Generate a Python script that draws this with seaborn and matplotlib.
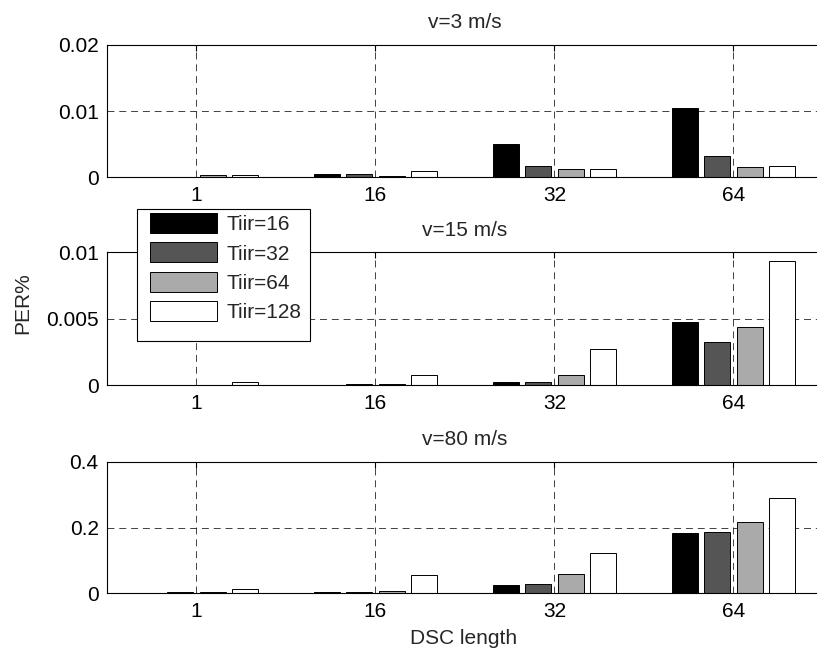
import matplotlib
matplotlib.use("Agg")
import matplotlib.pyplot as plt
import pandas as pd
import seaborn as sns
from matplotlib.patches import Rectangle

# Categories and series
dsc_lengths = ["1", "16", "32", "64"]
tiir_labels = ["Tiir=16", "Tiir=32", "Tiir=64", "Tiir=128"]
bar_colors = ["#000000", "#555555", "#aaaaaa", "#ffffff"]

# PER% per Tiir (rows) and DSC length (columns), one list per speed
per_v3 = [
    [0.0, 0.0005, 0.0050, 0.0105],
    [0.0, 0.00045, 0.00177, 0.0032],
    [0.0003, 0.00025, 0.00126, 0.00156],
    [0.0003, 0.0010, 0.00126, 0.00176],
]
per_v15 = [
    [0.0, 0.0, 0.000225, 0.00475],
    [0.0, 0.000125, 0.000225, 0.00323],
    [0.0, 0.000125, 0.00075, 0.00437],
    [0.000225, 0.00075, 0.0027, 0.00937],
]
per_v80 = [
    [0.0, 0.004, 0.025, 0.182],
    [0.004, 0.004, 0.029, 0.186],
    [0.004, 0.008, 0.060, 0.216],
    [0.013, 0.0545, 0.123, 0.291],
]

panel_titles = ["v=3 m/s", "v=15 m/s", "v=80 m/s"]
panel_data = [per_v3, per_v15, per_v80]
y_ticks = [[0, 0.01, 0.02], [0, 0.005, 0.01], [0, 0.2, 0.4]]
y_tick_labels = [["0", "0.01", "0.02"], ["0", "0.005", "0.01"], ["0", "0.2", "0.4"]]

sns.set_style("white")
plt.rcParams["font.family"] = ["Liberation Sans", "DejaVu Sans"]
plt.rcParams["lines.scale_dashes"] = False
plt.rcParams["axes.edgecolor"] = "black"
plt.rcParams["axes.linewidth"] = 0.8
FS = 15

W, H = 817, 651
fig = plt.figure(figsize=(W / 100, H / 100), dpi=100)

# axes boxes in pixels: (left, top, right, bottom)
boxes = [(107, 45, 823, 177.3), (107, 252.3, 823, 385.3), (107, 461.7, 823, 593.3)]

legend_handles = None
for i, (title, data, ticks, tlabels, box) in enumerate(
    zip(panel_titles, panel_data, y_ticks, y_tick_labels, boxes)
):
    l, t, r, b = box
    ax = fig.add_axes([l / W, 1 - b / H, (r - l) / W, (b - t) / H])
    rows = []
    for tiir, vals in zip(tiir_labels, data):
        for dsc, v in zip(dsc_lengths, vals):
            rows.append({"DSC": dsc, "Tiir": tiir, "PER": v})
    df = pd.DataFrame(rows)
    sns.barplot(
        data=df, x="DSC", y="PER", hue="Tiir",
        order=dsc_lengths, hue_order=tiir_labels, palette=bar_colors,
        width=0.727, gap=0.2, saturation=1, errorbar=None,
        edgecolor="black", linewidth=0.7, legend=(i == 0), ax=ax,
    )
    if i == 0:
        legend_handles, legend_labels = ax.get_legend_handles_labels()
        ax.get_legend().remove()
    ax.set_xlim(-0.5, 3.5)
    ax.set_ylim(ticks[0], ticks[-1])
    ax.set_yticks(ticks)
    ax.set_yticklabels(tlabels)
    ax.set_xlabel("")
    ax.set_ylabel("")
    ax.set_axisbelow(True)
    ax.grid(True, color="#222222", linestyle=(0, (5, 3.5)), linewidth=0.6)
    ax.tick_params(direction="in", length=4, width=0.8, labelsize=FS,
                   top=True, right=True, pad=6, colors="black")
    for s in ax.spines.values():
        s.set_visible(True)
        s.set_color("black")
        s.set_linewidth(0.8)
    ax.set_title(title, fontsize=FS, pad=12)

# legend box with its frame
fig.add_artist(Rectangle((137 / W, 1 - 341 / H), (309.5 - 137) / W, (341 - 209) / H,
                         transform=fig.transFigure, facecolor="white",
                         edgecolor="black", linewidth=0.8, zorder=4))
leg = fig.legend(
    legend_handles, legend_labels, loc="upper left",
    bbox_to_anchor=(150 / W, 1 - 213 / H), bbox_transform=fig.transFigure,
    frameon=False, fontsize=FS, borderpad=0, borderaxespad=0,
    handlelength=3.2, handleheight=1.1, handletextpad=0.45, labelspacing=0.4,
)
leg.set_zorder(5)

fig.text(22.7 / W, 1 - 303 / H, "PER%", rotation=90, ha="center", va="center", fontsize=FS)
fig.text(464 / W, 1 - 638 / H, "DSC length", ha="center", va="center", fontsize=FS)

fig.savefig("out.png", dpi=100)
